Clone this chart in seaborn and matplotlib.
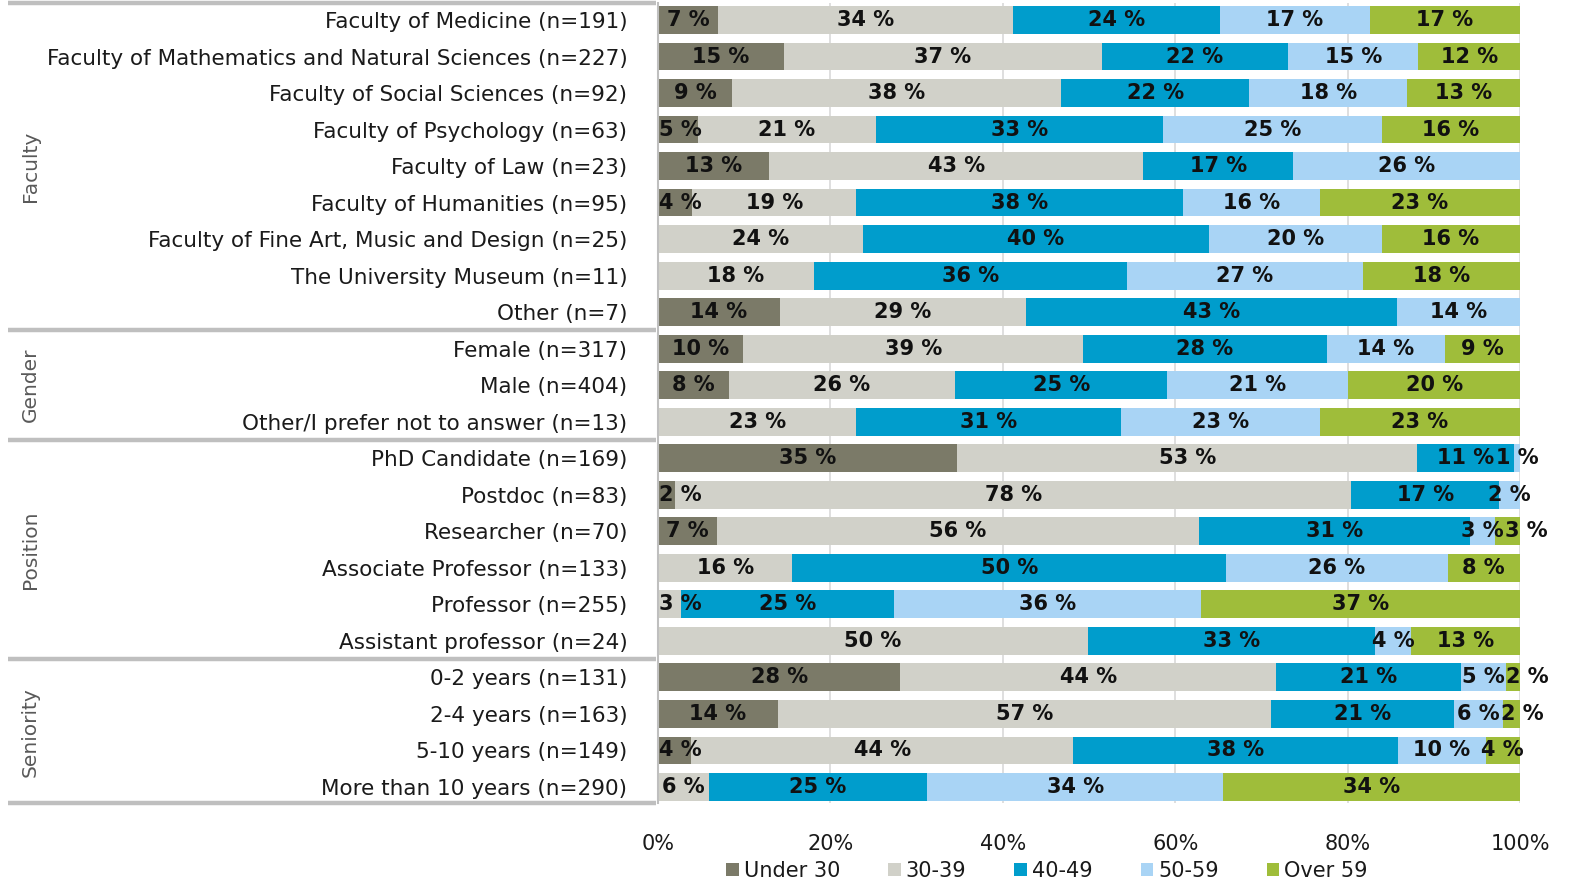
import numpy as np
import pandas as pd
import matplotlib
matplotlib.use("Agg")
import matplotlib.pyplot as plt
import matplotlib.transforms as mtransforms
from matplotlib.lines import Line2D
from matplotlib.patches import Patch
import seaborn as sns

# rows, top to bottom
categories = [
    "Faculty of Medicine (n=191)",
    "Faculty of Mathematics and Natural Sciences (n=227)",
    "Faculty of Social Sciences (n=92)",
    "Faculty of Psychology (n=63)",
    "Faculty of Law (n=23)",
    "Faculty of Humanities (n=95)",
    "Faculty of Fine Art, Music and Design (n=25)",
    "The University Museum (n=11)",
    "Other (n=7)",
    "Female (n=317)",
    "Male (n=404)",
    "Other/I prefer not to answer (n=13)",
    "PhD Candidate (n=169)",
    "Postdoc (n=83)",
    "Researcher (n=70)",
    "Associate Professor (n=133)",
    "Professor (n=255)",
    "Assistant professor (n=24)",
    "0-2 years (n=131)",
    "2-4 years (n=163)",
    "5-10 years (n=149)",
    "More than 10 years (n=290)",
]
groups = ["Faculty", "Gender", "Position", "Seniority"]
group_sizes = [9, 3, 6, 4]

age_bands = ["Under 30", "30-39", "40-49", "50-59", "Over 59"]

# percent shares
under_30 = [7.0, 14.6, 8.6, 4.6, 12.9, 4.0, 0, 0, 14.1,
            9.9, 8.2, 0,
            34.7, 2.0, 6.8, 0, 0, 0,
            28.1, 13.9, 3.8, 0]
age_30_39 = [34.2, 36.9, 38.2, 20.7, 43.4, 19.0, 23.8, 18.1, 28.6,
             39.4, 26.3, 23.0,
             53.4, 78.4, 56.0, 15.6, 2.7, 49.9,
             43.6, 57.2, 44.4, 5.9]
age_40_49 = [24.0, 21.6, 21.8, 33.3, 17.4, 37.9, 40.1, 36.3, 43.0,
             28.3, 24.6, 30.7,
             11.2, 17.2, 31.4, 50.3, 24.7, 33.3,
             21.4, 21.3, 37.7, 25.3]
age_50_59 = [17.4, 15.1, 18.3, 25.4, 26.3, 15.9, 20.1, 27.4, 14.3,
             13.7, 21.0, 23.1,
             0.7, 2.4, 2.9, 25.7, 35.6, 4.2,
             5.3, 5.6, 10.1, 34.4]
over_59 = [17.4, 11.8, 13.1, 16.0, 0, 23.2, 16.0, 18.2, 0,
           8.7, 19.9, 23.2,
           0, 0, 2.9, 8.4, 37.0, 12.6,
           1.6, 2.0, 4.0, 34.4]

colors = ["#7b7a68", "#d1d1c9", "#009dcc", "#a9d4f5", "#9fbd3a"]

df = pd.DataFrame({
    "category": categories,
    "Under 30": under_30,
    "30-39": age_30_39,
    "40-49": age_40_49,
    "50-59": age_50_59,
    "Over 59": over_59,
})
cum = df[age_bands].cumsum(axis=1)

sns.set_style("white")
plt.rcParams["font.family"] = ["DejaVu Sans"]

W, H = 1580, 884
fig = plt.figure(figsize=(W / 100, H / 100), dpi=100)
ax = fig.add_axes([658 / W, 1 - 803 / H, (1520 - 658) / W, 800 / H])

# stacked bars: draw cumulative totals from the right, each layer covers the next
for i in reversed(range(len(age_bands))):
    sns.barplot(x=cum[age_bands[i]], y=df["category"], orient="y",
                color=colors[i], saturation=1, width=0.76, linewidth=0,
                errorbar=None, ax=ax, zorder=2)

n = len(categories)
row_texts = [[] for _ in range(n)]
for i, band in enumerate(age_bands):
    left = cum[band] - df[band]
    for j, v in enumerate(df[band]):
        if v > 0:
            t = ax.text(left[j] + v / 2, j, f"{v:.0f} %", ha="center", va="center",
                        fontsize=15, fontweight="bold", color="#111111", zorder=3)
            row_texts[j].append(t)

ax.set_xlim(0, 100)
ax.set_ylim(n - 1 + 0.44, -0.465)
ax.set_xticks(range(0, 101, 20))
ax.set_xticklabels([f"{t}%" for t in range(0, 101, 20)])
ax.xaxis.grid(True, color="#d9d9d9", lw=1.2, zorder=0)
ax.set_axisbelow(True)
ax.set_xlabel("")
ax.set_ylabel("")
for s in ["top", "right", "bottom"]:
    ax.spines[s].set_visible(False)
ax.spines["left"].set_color("#bfbfbf")
ax.spines["left"].set_linewidth(1.5)
ax.tick_params(axis="y", length=0, pad=22, labelsize=15.5, labelcolor="#1a1a1a")
ax.tick_params(axis="x", length=0, pad=22, labelsize=15, labelcolor="#1a1a1a")

# nudge small-segment labels so they stay inside the plot and don't collide
renderer = fig.canvas.get_renderer()
x0_px = ax.transData.transform((0, 0))[0]
px_per_unit = ax.transData.transform((1, 0))[0] - x0_px
for texts in row_texts:
    prev_right = x0_px + 1
    for t in texts:
        bb = t.get_window_extent(renderer)
        shift = max(0, prev_right - bb.x0)
        if shift > 0:
            t.set_x(t.get_position()[0] + shift / px_per_unit)
        prev_right = bb.x1 + shift + 1

# group separators and group names on the left
trans = mtransforms.blended_transform_factory(fig.transFigure, ax.transData)
bounds = np.cumsum(group_sizes)
ylo, yhi = ax.get_ylim()
lines_y = [yhi] + [b - 0.5 for b in bounds[:-1]] + [ylo]
for y in lines_y:
    fig.add_artist(Line2D([8 / W, 656 / W], [y, y], transform=trans,
                          color="#bfbfbf", lw=3.2, solid_capstyle="butt"))
start = 0
for g, size in zip(groups, group_sizes):
    fig.text(30 / W, start + (size - 1) / 2, g, transform=trans, rotation=90,
             ha="center", va="center", fontsize=14.5, color="#595959")
    start += size

handles = [Patch(facecolor=c, edgecolor="none") for c in colors]
fig.legend(handles, age_bands, loc="center", bbox_to_anchor=(1047 / W, 1 - 871 / H),
           ncol=5, frameon=False, fontsize=15, handlelength=0.6, handleheight=0.6,
           handletextpad=0.25, columnspacing=2.3, labelcolor="#1a1a1a")

fig.savefig("out.png", dpi=100)
